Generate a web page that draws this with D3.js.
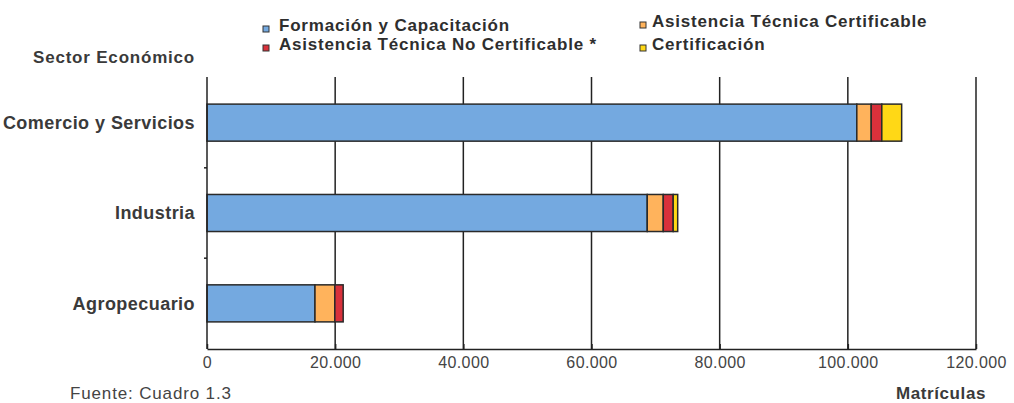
<!DOCTYPE html>
<html><head><meta charset="utf-8">
<script src="https://cdn.jsdelivr.net/npm/d3@7"></script>
<style>body{margin:0;background:#fff}svg{display:block}text{font-family:"Liberation Sans",Arial,sans-serif}</style>
</head><body>
<svg id="c" width="1014" height="403"></svg>
<script>
const categories = ["Comercio y Servicios", "Industria", "Agropecuario"];
const seriesNames = ["Formación y Capacitación", "Asistencia Técnica Certificable", "Asistencia Técnica No Certificable *", "Certificación"];
const formacion = [101400, 68700, 16850];
const atCertificable = [2250, 2500, 3100];
const atNoCertificable = [1650, 1550, 1300];
const certificacion = [3100, 700, 0];
const xTicks = [0, 20000, 40000, 60000, 80000, 100000, 120000];
const colors = ["#74a9e0", "#ffb35c", "#d9313b", "#ffd816"];

const svg = d3.select("#c");
const x = d3.scaleLinear().domain([0, 120000]).range([207, 976]);
const y = d3.scaleBand().domain(categories).range([77, 349]).paddingInner(0.59).paddingOuter(0.3);

const rows = categories.map((c, i) => ({cat: c, s0: formacion[i], s1: atCertificable[i], s2: atNoCertificable[i], s3: certificacion[i]}));
const stack = d3.stack().keys(["s0", "s1", "s2", "s3"])(rows);

// gridlines
svg.append("g").selectAll("line").data(xTicks.slice(1)).join("line")
  .attr("x1", d => x(d)).attr("x2", d => x(d)).attr("y1", 77).attr("y2", 349)
  .attr("stroke", "#222").attr("stroke-width", 1.5);

// bars
svg.append("g").selectAll("g").data(stack).join("g").attr("fill", (d, i) => colors[i])
  .selectAll("rect").data(d => d.filter(v => v[1] - v[0] > 0)).join("rect")
  .attr("x", d => x(d[0])).attr("width", d => x(d[1]) - x(d[0]))
  .attr("y", d => y(d.data.cat)).attr("height", y.bandwidth())
  .attr("stroke", "#2a2a2a").attr("stroke-width", 1.5);

// x axis
const xAxis = d3.axisBottom(x).tickValues(xTicks).tickSize(0).tickPadding(8)
  .tickFormat(d => d3.format(",")(d).replace(/,/g, "."));
const gx = svg.append("g").attr("transform", "translate(0,349)").call(xAxis);
gx.select(".domain").attr("stroke", "#222").attr("stroke-width", 1.5);
gx.selectAll("text").attr("font-size", 16).attr("fill", "#444").attr("letter-spacing", "0.4px");
gx.selectAll(".tick").append("line").attr("y1", -5).attr("y2", 0).attr("stroke", "#222").attr("stroke-width", 1.5);

// y axis
const gy = svg.append("g").attr("transform", "translate(207,0)");
gy.append("line").attr("x1", 0).attr("x2", 0).attr("y1", 77).attr("y2", 349).attr("stroke", "#222").attr("stroke-width", 1.5);
const step = y.step();
gy.selectAll(".sep").data(categories.slice(1)).join("line").attr("class", "sep")
  .attr("x1", -3).attr("x2", 0)
  .attr("y1", d => y(d) - (step - y.bandwidth()) / 2).attr("y2", d => y(d) - (step - y.bandwidth()) / 2)
  .attr("stroke", "#222").attr("stroke-width", 1.5);
gy.selectAll(".lab").data(categories).join("text").attr("class", "lab")
  .attr("x", -12).attr("y", d => y(d) + y.bandwidth() / 2).attr("dy", "0.36em")
  .attr("text-anchor", "end").attr("font-size", 18).attr("font-weight", "bold").attr("fill", "#3a3a3a")
  .attr("letter-spacing", "0.45px").text(d => d);

// titles
svg.append("text").attr("x", 33).attr("y", 63).attr("font-size", 17).attr("font-weight", "bold").attr("fill", "#3a3a3a").attr("letter-spacing", "0.8px").text("Sector Económico");
svg.append("text").attr("x", 70).attr("y", 399).attr("font-size", 17).attr("fill", "#444").attr("letter-spacing", "0.85px").text("Fuente: Cuadro 1.3");
svg.append("text").attr("x", 986).attr("y", 399).attr("text-anchor", "end").attr("font-size", 17).attr("font-weight", "bold").attr("fill", "#3a3a3a").attr("letter-spacing", "0.6px").text("Matrículas");

// legend
const legPos = [[263, 31], [640, 27], [263, 50], [640, 50]];
const leg = svg.append("g").selectAll("g").data(seriesNames).join("g")
  .attr("transform", (d, i) => `translate(${legPos[i][0]},${legPos[i][1]})`);
leg.append("rect").attr("x", 0).attr("y", -5).attr("width", 6).attr("height", 6)
  .attr("fill", (d, i) => colors[i]).attr("stroke", "#333").attr("stroke-width", 1);
leg.append("text").attr("x", (d, i) => i % 2 === 0 ? 16 : 12).attr("y", 0).attr("font-size", 17).attr("font-weight", "bold")
  .attr("fill", "#2e2e2e").attr("letter-spacing", "0.8px").text(d => d);
</script>
</body></html>
